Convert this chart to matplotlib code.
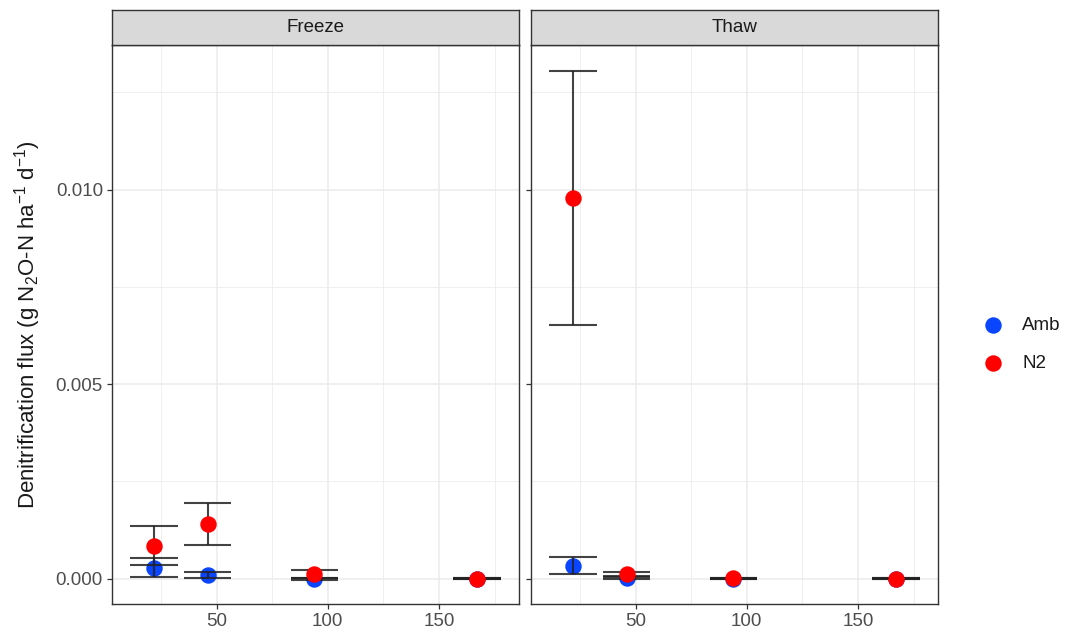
import matplotlib
matplotlib.use("Agg")
import matplotlib.pyplot as plt

plt.rcParams["font.family"] = ["Liberation Sans", "DejaVu Sans"]
plt.rcParams["mathtext.fontset"] = "custom"
plt.rcParams["mathtext.rm"] = "Liberation Sans"
plt.rcParams["mathtext.it"] = "Liberation Sans:italic"

# data
days = [22, 46, 94, 167]
panels = ["Freeze", "Thaw"]
treatments = ["Amb", "N2"]
colors = {"Amb": "#0A45FF", "N2": "#FF0000"}

freeze_amb = [0.00028, 0.00010, 0.00000, 0.00000]
freeze_amb_se = [0.00024, 0.00008, 0.00003, 0.00001]
freeze_n2 = [0.00085, 0.00141, 0.00013, 0.00000]
freeze_n2_se = [0.00050, 0.00054, 0.00010, 0.00001]

thaw_amb = [0.00033, 0.00002, 0.00000, 0.00000]
thaw_amb_se = [0.00022, 0.00003, 0.00001, 0.00001]
thaw_n2 = [0.00979, 0.00012, 0.00001, 0.00000]
thaw_n2_se = [0.00326, 0.00006, 0.00001, 0.00001]

values = {
    ("Freeze", "Amb"): (freeze_amb, freeze_amb_se),
    ("Freeze", "N2"): (freeze_n2, freeze_n2_se),
    ("Thaw", "Amb"): (thaw_amb, thaw_amb_se),
    ("Thaw", "N2"): (thaw_n2, thaw_n2_se),
}

fig = plt.figure(figsize=(10.7, 6.37), dpi=100)
W, H = 1070, 637
bottom, top = 604, 45
lefts = [(112, 519), (531, 938)]
ebar = dict(color="#222222", linewidth=1.5, alpha=0.85)
half = 10.7  # half errorbar cap width, in days

for (x0, x1), panel in zip(lefts, panels):
    ax = fig.add_axes([x0 / W, 1 - bottom / H, (x1 - x0) / W, (bottom - top) / H])
    ax.set_xlim(3.0, 186.0)
    ax.set_ylim(-0.00065, 0.01372)
    ax.set_xticks([50, 100, 150])
    ax.set_xticks([25, 75, 125, 175], minor=True)
    ax.set_yticks([0.0, 0.005, 0.010])
    ax.set_yticks([0.0025, 0.0075, 0.0125], minor=True)
    ax.grid(which="major", color="#EBEBEB", linewidth=1.1)
    ax.grid(which="minor", color="#EBEBEB", linewidth=0.55)
    ax.set_axisbelow(True)
    for s in ax.spines.values():
        s.set_color("#333333")
        s.set_linewidth(1.0)
    ax.tick_params(which="major", length=3.5, color="#333333", labelcolor="#4D4D4D",
                   labelsize=13.5, width=0.9, pad=3)
    ax.tick_params(which="minor", length=0)
    if panel == "Thaw":
        ax.set_yticklabels([])
    else:
        ax.set_yticklabels(["0.000", "0.005", "0.010"])
        ax.set_ylabel(r"Denitrification flux (g N$_2$O-N ha$^{-1}$ d$^{-1}$)",
                      fontsize=16, color="#1A1A1A", labelpad=9)

    for trt in treatments:
        y, se = values[(panel, trt)]
        lo = [v - e for v, e in zip(y, se)]
        hi = [v + e for v, e in zip(y, se)]
        z = 4 if trt == "Amb" else 5
        if trt == "N2":
            pass
        else:
            ax.scatter(days, y, s=140, color=colors[trt], zorder=3, linewidths=0)
        ax.vlines(days, lo, hi, zorder=z, **ebar)
        ax.hlines(lo + hi, [d - half for d in days] * 2, [d + half for d in days] * 2,
                  zorder=z, **ebar)
        if trt == "N2":
            ax.scatter(days, y, s=140, color=colors[trt], zorder=6, linewidths=0)

    # facet strip
    sax = fig.add_axes([x0 / W, 1 - top / H, (x1 - x0) / W, 35 / H])
    sax.set_xticks([])
    sax.set_yticks([])
    sax.set_facecolor("#D9D9D9")
    for s in sax.spines.values():
        s.set_color("#333333")
        s.set_linewidth(1.0)
    sax.text(0.5, 0.5, panel, ha="center", va="center", fontsize=13.5, color="#1A1A1A")

# legend
lax = fig.add_axes([0, 0, 1, 1], facecolor="none")
lax.set_axis_off()
lax.set_xlim(0, W)
lax.set_ylim(H, 0)
for i, trt in enumerate(treatments):
    yy = 325 + 38 * i
    lax.scatter([993], [yy], s=140, color=colors[trt], linewidths=0)
    lax.text(1022, yy, trt, ha="left", va="center", fontsize=13.5, color="#1A1A1A")

fig.savefig("out.png", dpi=100)
